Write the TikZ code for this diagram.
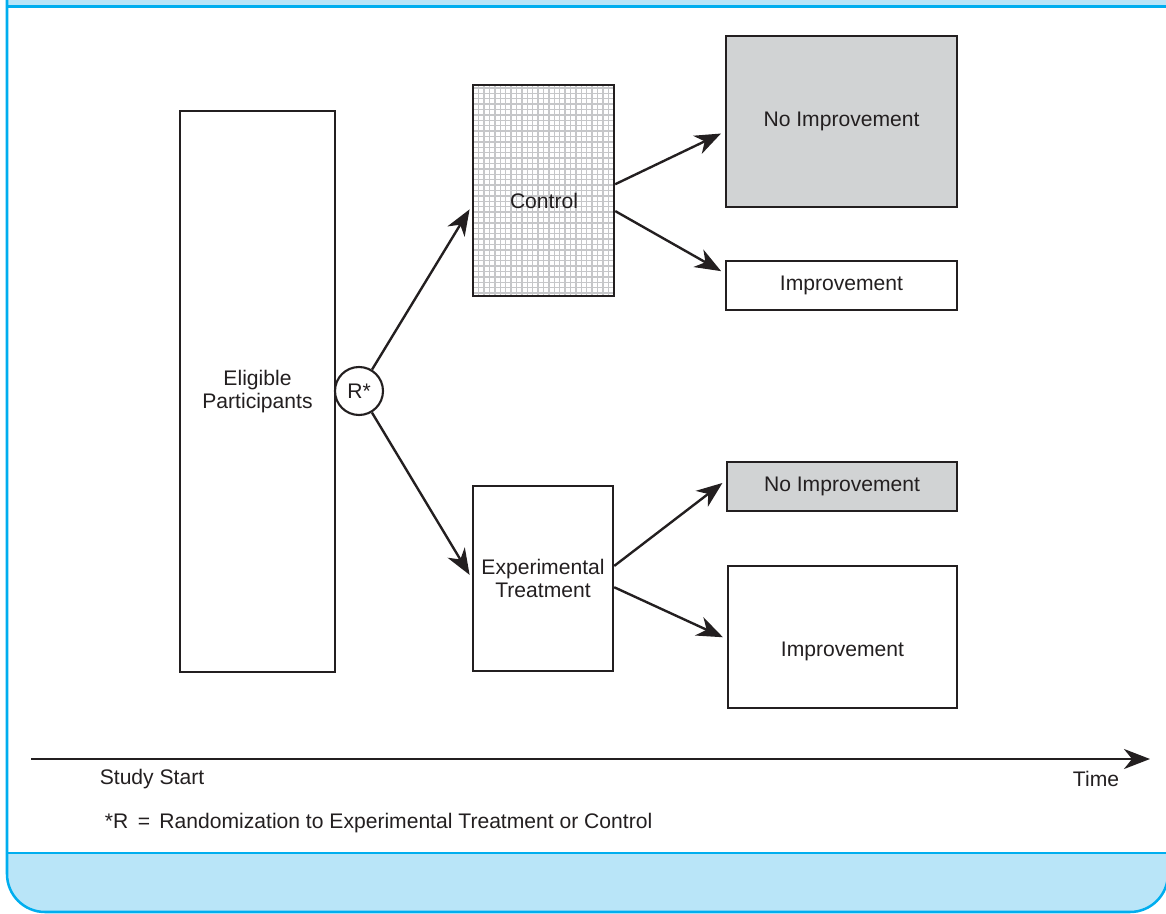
\documentclass[tikz,border=0pt]{standalone}
\usepackage{fontspec}
\setmainfont{Liberation Sans}
\usetikzlibrary{arrows.meta}

\definecolor{framecyan}{HTML}{00AEEF}
\definecolor{bandblue}{HTML}{B9E5F8}
\definecolor{boxgray}{HTML}{D1D3D4}
\definecolor{gridgray}{HTML}{C6C7C9}
\definecolor{inkblack}{HTML}{231F20}

\tikzstyle{box} = [rectangle, draw=inkblack, line width=1.7pt, inner sep=0pt, align=center, text=inkblack]
\tikzstyle{shaded} = [box, fill=boxgray]
\tikzstyle{checked} = [box, path picture={\draw[gridgray, line width=0.9pt, step=0.135cm] (path picture bounding box.south west) grid (path picture bounding box.north east);}]
\tikzstyle{randcircle} = [circle, draw=inkblack, line width=1.5pt, minimum size=1.2cm, inner sep=0pt, fill=white, text=inkblack]
\tikzstyle{arrow} = [line width=1.7pt, draw=inkblack, -{Stealth[length=6.5mm, width=5mm, inset=2mm]}]
\tikzstyle{caption} = [text=inkblack]
\tikzstyle{frameline} = [framecyan, line width=1.8pt]

\begin{document}
\begin{tikzpicture}[x=0.025cm, y=-0.025cm, font=\fontsize{15}{16.6}\selectfont]
\useasboundingbox (0,0) rectangle (1166,914);

% frame
\fill[bandblue] (7,0) rectangle (1168,6.5);
\fill[bandblue] (7,853) [rounded corners=0.95cm] -- (7,912) -- (1168,912) [sharp corners] -- (1168,853) -- cycle;
\draw[frameline] (7,6.5) -- (1168,6.5);
\draw[frameline] (7,853) -- (1168,853);
\draw[frameline] (7,0) [rounded corners=0.95cm] -- (7,912) -- (1168,912) [sharp corners] -- (1168,0);

\node (elig) [box, minimum width=3.875cm, minimum height=14.025cm] at (257.5,391.5) {Eligible\\Participants};
\node (rand) [randcircle] at (359,391) {R*};
\node (control) [checked, minimum width=3.525cm, minimum height=5.275cm] at (543.5,190.5) {};
\node (controltext) [caption] at (544,201) {Control};
\node (exper) [box, minimum width=3.5cm, minimum height=4.625cm] at (543,578.5) {Experimental\\Treatment};
\node (noimpA) [shaded, minimum width=5.775cm, minimum height=4.275cm] at (841.5,121.5) {No Improvement};
\node (impA) [box, minimum width=5.775cm, minimum height=1.225cm] at (841.5,285.5) {Improvement};
\node (noimpB) [shaded, minimum width=5.75cm, minimum height=1.225cm] at (842,486.5) {No Improvement};
\node (impB) [box, minimum width=5.725cm, minimum height=3.55cm] at (842.5,637) {};
\node (impBtext) [caption] at (842.5,651) {Improvement};

% time axis
\coordinate (tstart) at (31,759);
\coordinate (tend) at (1150,759);
\node (studystart) [caption] at (152,779) {Study Start};
\node (time) [caption] at (1096,779) {Time};
\node (footnote) [caption, anchor=west] at (100,823) {*R \,=\, Randomization to Experimental Treatment or Control};

% Arrows
\draw [arrow, shorten >=3pt] (rand) -- (control.192);
\draw [arrow, shorten >=3pt] (rand) -- (exper.west);
\draw [arrow, shorten >=3pt] (control.5) -- (noimpA.185);
\draw [arrow, shorten >=3pt] (control.-16) -- (impA.174);
\draw [arrow, shorten >=3pt] (exper.10) -- (noimpB.177);
\draw [arrow, shorten >=3pt] (exper.-7) -- (impB.181);
\draw [arrow] (tstart) -- (tend);

\end{tikzpicture}
\end{document}
